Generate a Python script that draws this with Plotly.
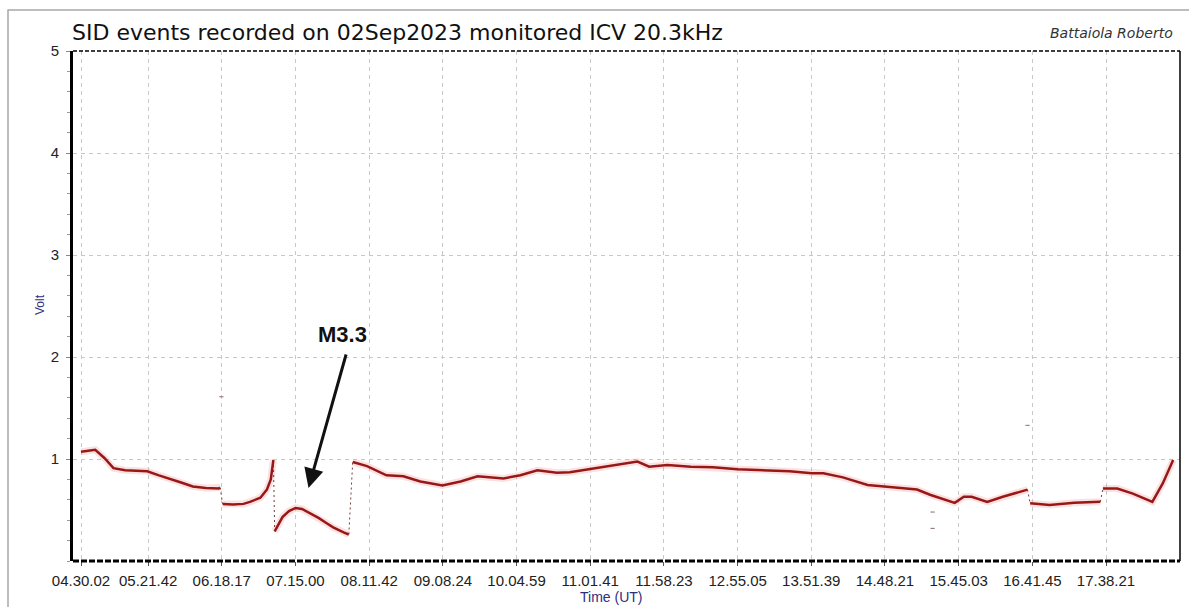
import plotly.graph_objects as go

# ---------------- data ----------------
tick_labels = ["04.30.02", "05.21.42", "06.18.17", "07.15.00", "08.11.42",
               "09.08.24", "10.04.59", "11.01.41", "11.58.23", "12.55.05",
               "13.51.39", "14.48.21", "15.45.03", "16.41.45", "17.38.21"]

seg1_t = ["04:30", "04:35", "04:41", "04:48", "04:55", "05:04", "05:14", "05:21",
          "05:30", "05:38", "05:47", "05:56", "06:06", "06:16", "06:17"]
seg1_v = [1.07, 1.08, 1.09, 1.01, 0.91, 0.89, 0.885, 0.88,
          0.84, 0.81, 0.77, 0.73, 0.715, 0.71, 0.72]

seg2_t = ["06:19", "06:27", "06:35", "06:40", "06:48", "06:53", "06:56", "06:58"]
seg2_v = [0.56, 0.555, 0.56, 0.58, 0.62, 0.70, 0.80, 0.99]

seg3_t = ["06:59", "07:05", "07:10", "07:15", "07:20", "07:26", "07:33", "07:39",
          "07:44", "07:52", "07:56"]
seg3_v = [0.29, 0.43, 0.49, 0.52, 0.51, 0.47, 0.42, 0.37, 0.33, 0.28, 0.26]

seg4_t = ["07:59", "08:04", "08:10", "08:25", "08:38", "08:51", "09:08", "09:22",
          "09:35", "09:55", "10:08", "10:21", "10:36", "10:46", "11:01", "11:19",
          "11:38", "11:47", "12:01", "12:19", "12:36", "12:55", "13:18", "13:35",
          "13:52", "14:01", "14:16", "14:35", "14:52", "15:13", "15:23", "15:42",
          "15:49", "15:55", "16:07", "16:19", "16:38"]
seg4_v = [0.97, 0.95, 0.93, 0.84, 0.83, 0.78, 0.74, 0.78,
          0.83, 0.81, 0.84, 0.89, 0.865, 0.87, 0.90, 0.94,
          0.975, 0.925, 0.94, 0.925, 0.92, 0.90, 0.89, 0.88,
          0.86, 0.86, 0.82, 0.745, 0.725, 0.70, 0.65, 0.57,
          0.63, 0.63, 0.58, 0.63, 0.70]

seg5_t = ["16:40", "16:55", "17:14", "17:34"]
seg5_v = [0.565, 0.55, 0.57, 0.58]

seg6_t = ["17:36", "17:47", "17:59", "18:14", "18:22", "18:30"]
seg6_v = [0.71, 0.71, 0.66, 0.58, 0.76, 0.99]

spike_t = ["06:18", "15:25", "15:25", "16:38"]
spike_v = [1.61, 0.48, 0.32, 1.33]

title_text = "SID events recorded on 02Sep2023 monitored ICV 20.3kHz"
author_text = "Battaiola Roberto"
flare_label = "M3.3"


def hours(s):
    parts = [int(p) for p in s.replace(".", ":").split(":")]
    while len(parts) < 3:
        parts.append(0)
    return parts[0] + parts[1] / 60 + parts[2] / 3600


segments = [(seg1_t, seg1_v), (seg2_t, seg2_v), (seg3_t, seg3_v),
            (seg4_t, seg4_v), (seg5_t, seg5_v), (seg6_t, seg6_v)]

line_x, line_y = [], []
for t, v in segments:
    line_x += [hours(s) for s in t] + [None]
    line_y += list(v) + [None]

conn_x, conn_y = [], []
for (ta, va), (tb, vb) in zip(segments[:-1], segments[1:]):
    conn_x += [hours(ta[-1]), hours(tb[0]), None]
    conn_y += [va[-1], vb[0], None]

tickvals = [hours(s) for s in tick_labels]

# ---------------- figure ----------------
PL, PR, PT, PB = 73, 1180, 51, 561
W, H = 1189, 607
px_per_h = (1106 - 81) / (tickvals[-1] - tickvals[0])
x0 = tickvals[0] - (81 - PL) / px_per_h
x1 = tickvals[-1] + (PR - 1106) / px_per_h

fig = go.Figure()

fig.add_trace(go.Scatter(x=line_x, y=line_y, mode="lines",
                         line=dict(color="rgba(235,120,120,0.22)", width=7),
                         hoverinfo="skip", showlegend=False))
fig.add_trace(go.Scatter(x=conn_x, y=conn_y, mode="lines",
                         line=dict(color="#7a3a3a", width=1, dash="2px,3px"),
                         hoverinfo="skip", showlegend=False))
fig.add_trace(go.Scatter(x=line_x, y=line_y, mode="lines",
                         line=dict(color="#981818", width=2.5),
                         showlegend=False))
fig.add_trace(go.Scatter(x=[hours(s) for s in spike_t], y=spike_v, mode="markers",
                         marker=dict(color="#8a6a6a", size=3, symbol="line-ew-open",
                                     line=dict(width=1, color="#8a6a6a")),
                         showlegend=False))

def px_x(p):
    return (p - PL) / (PR - PL)

def px_y(p):
    return (PB - p) / (PB - PT)

fig.update_layout(
    width=W, height=H,
    margin=dict(l=PL, r=W - PR, t=PT, b=H - PB, pad=0),
    paper_bgcolor="white", plot_bgcolor="white",
    font=dict(family="Liberation Sans, Arial, sans-serif", color="#222222"),
    xaxis=dict(range=[x0, x1], tickvals=tickvals, ticktext=tick_labels,
               showgrid=True, gridcolor="#c8c8c8", griddash="4px,4px", gridwidth=1,
               zeroline=False, showline=False,
               ticks="outside", ticklen=4, tickcolor="#555555",
               tickfont=dict(size=15, color="#222222"),
               ticklabelstandoff=2),
    yaxis=dict(range=[0, 5], tickvals=[1, 2, 3, 4, 5], ticktext=["1", "2", "3", "4", "5"],
               showgrid=True, gridcolor="#c8c8c8", griddash="4px,4px", gridwidth=1,
               zeroline=False, showline=True, linecolor="black", linewidth=3,
               ticks="outside", ticklen=4, tickcolor="#888888",
               minor=dict(dtick=0.2, ticks="outside", ticklen=3, tickcolor="#999999",
                          showgrid=False),
               tickfont=dict(size=15, color="#222222"),
               ticklabelstandoff=4),
    shapes=[
        dict(type="line", xref="paper", yref="paper", x0=0, x1=1, y0=0, y1=0,
             line=dict(color="black", width=3, dash="6px,2px")),
        dict(type="line", xref="paper", yref="paper", x0=0, x1=1, y0=1, y1=1,
             line=dict(color="black", width=1.5, dash="4px,2px")),
        dict(type="line", xref="paper", yref="paper", x0=1, x1=1, y0=0, y1=1,
             line=dict(color="black", width=1.5)),
        dict(type="rect", xref="paper", yref="paper",
             x0=px_x(8), x1=px_x(1200), y0=px_y(10), y1=px_y(620),
             line=dict(color="#a8a8a8", width=1.5), layer="below"),
    ],
    annotations=[
        dict(text=title_text, xref="paper", yref="paper", x=px_x(70), y=px_y(33),
             xanchor="left", yanchor="middle", showarrow=False,
             font=dict(family="DejaVu Sans, sans-serif", size=22, color="#111111")),
        dict(text="<i>" + author_text + "</i>", xref="paper", yref="paper",
             x=px_x(1175), y=px_y(33), xanchor="right", yanchor="middle",
             showarrow=False,
             font=dict(family="DejaVu Sans, sans-serif", size=14, color="#333333")),
        dict(text="Volt", xref="paper", yref="paper", x=px_x(40), y=px_y(305),
             xanchor="center", yanchor="middle", textangle=-90, showarrow=False,
             font=dict(size=12, color="#2e2e7e")),
        dict(text="Time (UT)", xref="paper", yref="paper", x=px_x(611), y=px_y(597),
             xanchor="center", yanchor="middle", showarrow=False,
             font=dict(size=14, color="#2e2e7e")),
        dict(text="<b>" + flare_label + "</b>", xref="paper", yref="paper",
             x=px_x(342), y=px_y(334), xanchor="center", yanchor="middle",
             showarrow=False,
             font=dict(size=22, color="#111111")),
        dict(text="", x=hours("07:25"), y=0.716, xref="x", yref="y",
             showarrow=True, ax=38, ay=-135, axref="pixel", ayref="pixel",
             arrowhead=2, arrowsize=1.3, arrowwidth=3, arrowcolor="#111111"),
    ],
)

fig.write_html("out.html", config={"displayModeBar": False},
               post_script="document.body.style.margin='0';document.body.style.overflow='hidden';")
